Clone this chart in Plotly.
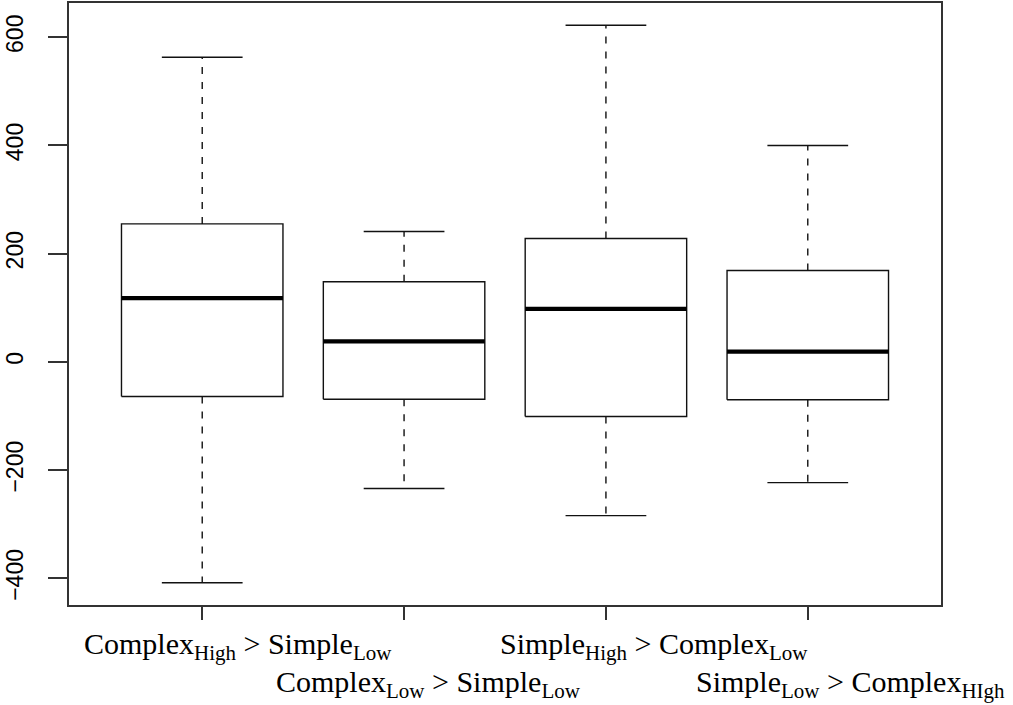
import plotly.graph_objects as go

# ---- data ----
categories = ["Complex_High > Simple_Low", "Complex_Low > Simple_Low",
              "Simple_High > Complex_Low", "Simple_Low > Complex_HIgh"]
label_html = ["Complex<sub>High</sub> > Simple<sub>Low</sub>",
              "Complex<sub>Low</sub> > Simple<sub>Low</sub>",
              "Simple<sub>High</sub> > Complex<sub>Low</sub>",
              "Simple<sub>Low</sub> > Complex<sub>HIgh</sub>"]
lower_whisker = [-408, -234, -284, -223]
q1_values = [-64, -69, -101, -70]
median_values = [118, 38, 98, 19]
q3_values = [255, 148, 228, 169]
upper_whisker = [563, 241, 622, 400]
y_ticks = [-400, -200, 0, 200, 400, 600]

# ---- style ----
BOX_HALF = 0.4
CAP_HALF = 0.2
LINE = "#111111"
FRAME = "#333333"

fig = go.Figure()
for i in range(len(categories)):
    x = i + 1
    lo, q1, md, q3, hi = (lower_whisker[i], q1_values[i], median_values[i],
                          q3_values[i], upper_whisker[i])
    # whiskers (dashed)
    fig.add_trace(go.Scatter(x=[x, x, None, x, x], y=[q3, hi, None, q1, lo],
                             mode="lines", line=dict(color=LINE, width=1.4, dash="7px,8px"),
                             hoverinfo="skip", showlegend=False))
    # caps
    fig.add_trace(go.Scatter(x=[x - CAP_HALF, x + CAP_HALF, None, x - CAP_HALF, x + CAP_HALF],
                             y=[hi, hi, None, lo, lo], mode="lines",
                             line=dict(color=LINE, width=1.4), hoverinfo="skip", showlegend=False))
    # box
    fig.add_trace(go.Scatter(x=[x - BOX_HALF, x + BOX_HALF, x + BOX_HALF, x - BOX_HALF, x - BOX_HALF],
                             y=[q1, q1, q3, q3, q1], mode="lines", fill="toself",
                             fillcolor="white", line=dict(color=LINE, width=1.4),
                             name=categories[i], hoverinfo="skip", showlegend=False))
    # median
    fig.add_trace(go.Scatter(x=[x - BOX_HALF, x + BOX_HALF], y=[md, md], mode="lines",
                             line=dict(color="black", width=4.2), hoverinfo="skip", showlegend=False))

# x-axis labels in two staggered rows
label_offsets = [0.178, 0.123, 0.237, 0.212]
label_rows = [0, 1, 0, 1]
for i, txt in enumerate(label_html):
    fig.add_annotation(x=i + 1 + label_offsets[i], xref="x",
                       y=-0.068 - 0.063 * label_rows[i], yref="paper",
                       text=txt, showarrow=False, xanchor="center", yanchor="middle",
                       font=dict(family="Liberation Serif, Times New Roman, serif", size=30, color="black"))

n = len(categories)
span = max(upper_whisker) - min(lower_whisker)
y_lo = min(lower_whisker) - 0.04 * span
y_hi = max(upper_whisker) + 0.04 * span
x_lo = 0.5 - 0.04 * n
x_hi = n + 0.5 + 0.04 * n

fig.update_layout(
    width=1013, height=705,
    margin=dict(l=69, r=72, t=3, b=100, autoexpand=False),
    paper_bgcolor="white", plot_bgcolor="white",
    showlegend=False,
    font=dict(family="Liberation Sans, Arial, sans-serif", size=20, color="black"),
)
fig.update_xaxes(range=[x_lo, x_hi], tickvals=list(range(1, n + 1)), ticktext=[""] * n,
                 ticks="outside", ticklen=13, tickwidth=1.5, tickcolor=FRAME,
                 showline=True, linecolor=FRAME, linewidth=1.6, mirror=True,
                 showgrid=False, zeroline=False, automargin=False)
fig.update_yaxes(range=[y_lo, y_hi], tickvals=y_ticks,
                 ticktext=[str(v).replace("-", "\u2212") for v in y_ticks],
                 tickangle=-90, ticks="outside", ticklen=19, tickwidth=1.5, tickcolor=FRAME,
                 ticklabelstandoff=16,
                 showline=True, linecolor=FRAME, linewidth=1.6, mirror=True,
                 showgrid=False, zeroline=False, automargin=False,
                 tickfont=dict(family="Liberation Sans, Arial, sans-serif", size=23, color="black"))

fig.write_html("out.html", config={"displayModeBar": False},
               post_script="document.body.style.margin='0';")
